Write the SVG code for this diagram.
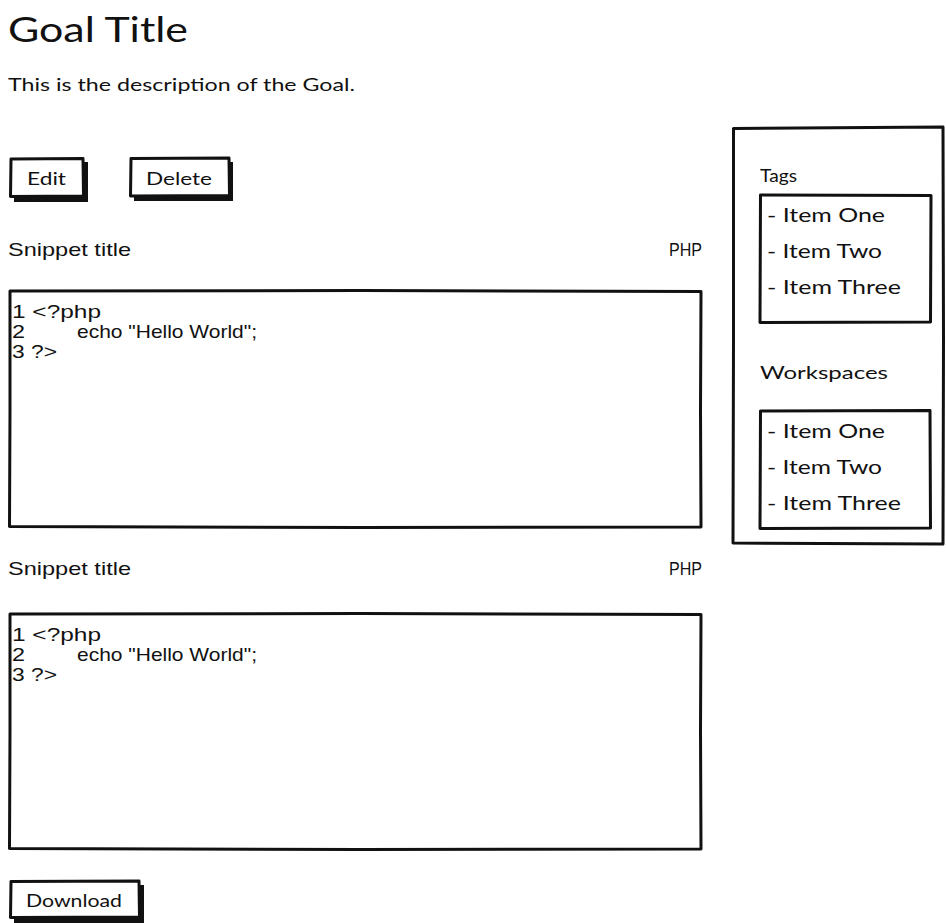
<svg xmlns="http://www.w3.org/2000/svg" width="946" height="923" viewBox="0 0 946 923">
  <style>
    .hand { font-family: "Lato", "Noto Sans", sans-serif; fill: #111; }
    .plain { font-family: "Liberation Sans", Arial, sans-serif; fill: #111; }
    .frame { fill: #fff; stroke: #111; stroke-width: 3; stroke-linejoin: round; }
    .shadow { fill: #111; }
  </style>
  <rect width="946" height="923" fill="#fff"/>

  <!-- page heading -->
  <g id="heading">
    <text class="hand" x="8" y="42" font-size="34" textLength="180" lengthAdjust="spacingAndGlyphs">Goal Title</text>
    <text class="hand" x="8" y="91" font-size="17" textLength="347" lengthAdjust="spacingAndGlyphs">This is the description of the Goal.</text>
  </g>

  <!-- action buttons -->
  <g id="btn-edit">
    <rect class="shadow" x="14" y="162" width="74" height="40"/>
    <path class="frame" d="M11 159 L83 158.5 L83.5 196 L10.5 196.5 Z"/>
    <text class="hand" x="27" y="185" font-size="18" textLength="39" lengthAdjust="spacingAndGlyphs">Edit</text>
  </g>
  <g id="btn-delete">
    <rect class="shadow" x="134" y="162" width="99" height="39"/>
    <path class="frame" d="M131 158.5 L229 158 L229.5 195.5 L130.5 196 Z"/>
    <text class="hand" x="146" y="185" font-size="18" textLength="66" lengthAdjust="spacingAndGlyphs">Delete</text>
  </g>

  <!-- first snippet -->
  <g id="snippet-1">
    <text class="plain" x="8" y="256" font-size="19" textLength="123" lengthAdjust="spacingAndGlyphs">Snippet title</text>
    <text class="plain" x="669" y="256" font-size="19" textLength="33" lengthAdjust="spacingAndGlyphs">PHP</text>
    <path class="frame" d="M10 291 L360 290.5 L701 291.5 L700.5 410 L701 527 L360 527.5 L9.5 526.5 L10 410 Z"/>
    <text class="plain" x="12" y="318" font-size="19" textLength="89" lengthAdjust="spacingAndGlyphs">1 &lt;?php</text>
    <text class="plain" x="12" y="338" font-size="19" textLength="13" lengthAdjust="spacingAndGlyphs">2</text>
    <text class="plain" x="77" y="338" font-size="19" textLength="180" lengthAdjust="spacingAndGlyphs">echo "Hello World";</text>
    <text class="plain" x="12" y="358" font-size="19" textLength="45" lengthAdjust="spacingAndGlyphs">3 ?&gt;</text>
  </g>

  <!-- second snippet -->
  <g id="snippet-2">
    <text class="plain" x="8" y="575" font-size="19" textLength="123" lengthAdjust="spacingAndGlyphs">Snippet title</text>
    <text class="plain" x="669" y="575" font-size="19" textLength="33" lengthAdjust="spacingAndGlyphs">PHP</text>
    <path class="frame" d="M10 614 L360 613.5 L701 614.5 L700.5 730 L701 849 L360 849.5 L9.5 848.5 L10 730 Z"/>
    <text class="plain" x="12" y="641" font-size="19" textLength="89" lengthAdjust="spacingAndGlyphs">1 &lt;?php</text>
    <text class="plain" x="12" y="661" font-size="19" textLength="13" lengthAdjust="spacingAndGlyphs">2</text>
    <text class="plain" x="77" y="661" font-size="19" textLength="180" lengthAdjust="spacingAndGlyphs">echo "Hello World";</text>
    <text class="plain" x="12" y="681" font-size="19" textLength="45" lengthAdjust="spacingAndGlyphs">3 ?&gt;</text>
  </g>

  <g id="btn-download">
    <rect class="shadow" x="14" y="885" width="130" height="38"/>
    <path class="frame" d="M11 881.5 L139 881 L139.5 917 L10.5 917.5 Z"/>
    <text class="hand" x="26" y="907" font-size="18" textLength="96" lengthAdjust="spacingAndGlyphs">Download</text>
  </g>

  <!-- side panel -->
  <g id="side-panel">
    <path class="frame" d="M733.5 128.5 L943 127 L943.5 340 L943 544 L733 543 L733.5 340 Z"/>
  </g>
  <g id="tags">
    <text class="hand" x="760" y="182" font-size="18" textLength="37" lengthAdjust="spacingAndGlyphs">Tags</text>
    <path class="frame" d="M760.5 195 L931 195.5 L930.5 322 L760 322.5 Z"/>
    <text class="hand" x="767" y="222" font-size="19" textLength="118" lengthAdjust="spacingAndGlyphs">- Item One</text>
    <text class="hand" x="767" y="258" font-size="19" textLength="115" lengthAdjust="spacingAndGlyphs">- Item Two</text>
    <text class="hand" x="767" y="294" font-size="19" textLength="134" lengthAdjust="spacingAndGlyphs">- Item Three</text>
  </g>
  <g id="workspaces">
    <text class="hand" x="760" y="379" font-size="18" textLength="128" lengthAdjust="spacingAndGlyphs">Workspaces</text>
    <path class="frame" d="M760.5 411 L930 410.5 L930.5 528 L760 528.5 Z"/>
    <text class="hand" x="767" y="438" font-size="19" textLength="118" lengthAdjust="spacingAndGlyphs">- Item One</text>
    <text class="hand" x="767" y="474" font-size="19" textLength="115" lengthAdjust="spacingAndGlyphs">- Item Two</text>
    <text class="hand" x="767" y="510" font-size="19" textLength="134" lengthAdjust="spacingAndGlyphs">- Item Three</text>
  </g>

  <!-- connectors: none in this layout -->
  <g id="connectors"/>
</svg>
